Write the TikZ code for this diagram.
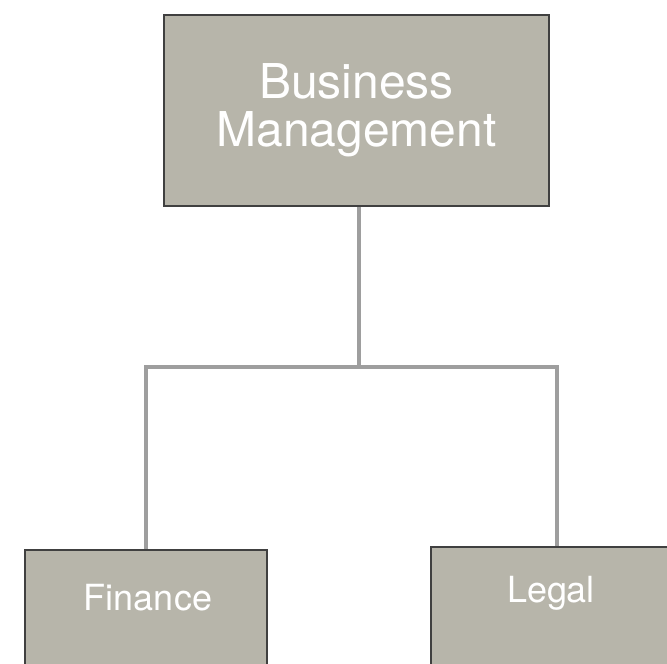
\documentclass[tikz,border=0pt]{standalone}
\usepackage{fontspec}
\setmainfont{TeX Gyre Heros}
\usetikzlibrary{backgrounds}
\definecolor{boxfill}{RGB}{183,181,170}
\definecolor{boxedge}{RGB}{64,64,64}
\definecolor{linkgray}{RGB}{158,158,158}
\tikzset{
  unitbox/.style={draw=boxedge, line width=2pt, fill=boxfill, inner sep=0pt},
  conn/.style={draw=linkgray, line width=4.5pt},
  bigtext/.style={text=white, font=\fontsize{48}{48}\selectfont, align=center},
  smalltext/.style={text=white, font=\fontsize{36}{36}\selectfont, anchor=base, inner sep=0pt},
}
\begin{document}
\begin{tikzpicture}[x=1pt, y=1pt]
  \useasboundingbox (0,0) rectangle (667,664);
  \clip (0,0) rectangle (667,664);

  % head unit
  \node[unitbox, bigtext, minimum width=385pt, minimum height=191pt]
    (top) at (356.5,553.6) {Business\\Management};

  % departments (run past the lower edge)
  \node[unitbox, minimum width=241.7pt, minimum height=134pt] (finance) at (145.8,47) {};
  \node[unitbox, minimum width=252pt, minimum height=137.3pt] (legal) at (557,48.65) {};
  \node[smalltext] (financetext) at (148,53.3) {Finance};
  \node[smalltext] (legaltext) at (551,61) {Legal};

  % connectors
  \begin{scope}[on background layer]
    \path ([xshift=2.5pt]top.south) ++(0,-160) coordinate (split);
    \draw[conn] ([xshift=2.5pt]top.south) -- (split);
    \draw[conn] (finance.north) |- (split) -| (legal.north);
  \end{scope}
\end{tikzpicture}
\end{document}
